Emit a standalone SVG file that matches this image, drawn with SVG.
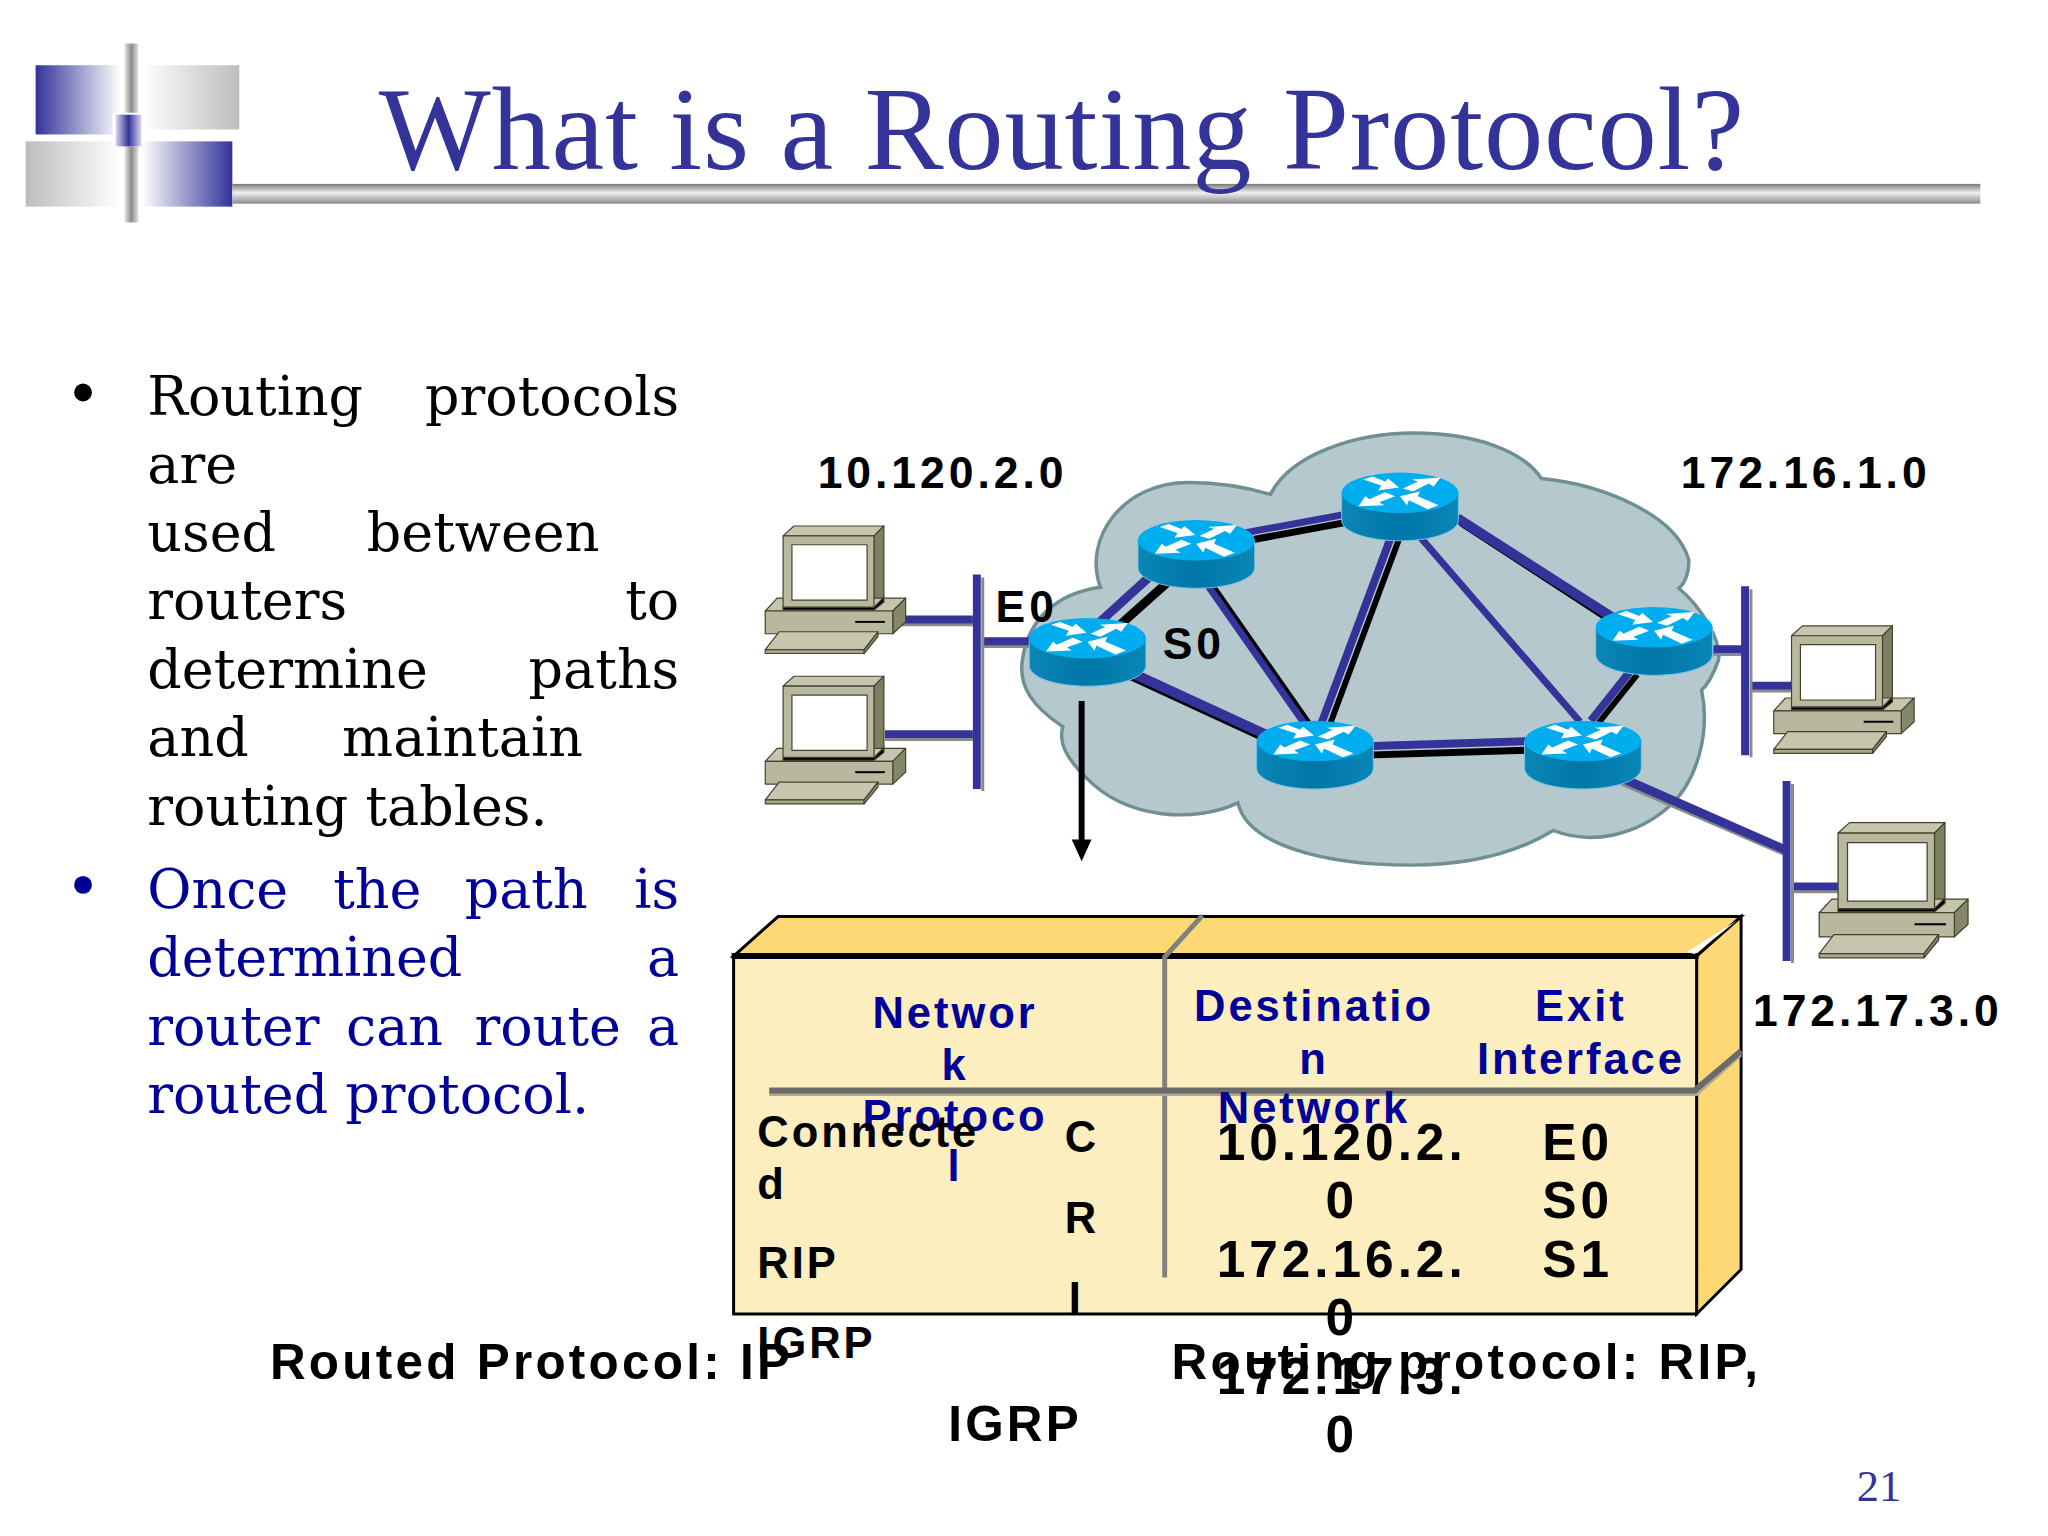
<svg xmlns="http://www.w3.org/2000/svg" xmlns:xlink="http://www.w3.org/1999/xlink" width="2048" height="1536" viewBox="0 0 2048 1536">
<style>
.body{font-family:"DejaVu Serif","Liberation Serif",serif;font-size:54.5px}
.blk{fill:#000}.nav{fill:#000099}
.s{font-family:"Liberation Sans",Arial,sans-serif;font-weight:bold;font-size:45px;letter-spacing:4px}
.t{font-size:44px;letter-spacing:3px}.big{font-size:52px;letter-spacing:4px}.cap{font-size:50px;letter-spacing:3.3px}.m{text-anchor:middle}
.bl{stroke:#333399;fill:none}.bk{stroke:#000;fill:none}
.sh{stroke:#8a8a8a;fill:none}
.pcl{stroke:#44442c;stroke-width:1.2;stroke-linejoin:round}
</style>
<defs>
<linearGradient id="gBW"><stop offset="0" stop-color="#333399"/><stop offset="1" stop-color="#fff"/></linearGradient>
<linearGradient id="gWB"><stop offset="0" stop-color="#fff"/><stop offset="1" stop-color="#333399"/></linearGradient>
<linearGradient id="gGW"><stop offset="0" stop-color="#bdbdbd"/><stop offset="1" stop-color="#fff"/></linearGradient>
<linearGradient id="gWG"><stop offset="0" stop-color="#fff"/><stop offset="1" stop-color="#bdbdbd"/></linearGradient>
<linearGradient id="gV"><stop offset="0" stop-color="#e4e4e4"/><stop offset=".5" stop-color="#8c8c8c"/><stop offset="1" stop-color="#e4e4e4"/></linearGradient>
<linearGradient id="gH" x2="0" y2="1"><stop offset="0" stop-color="#777"/><stop offset=".45" stop-color="#f0f0f0"/><stop offset="1" stop-color="#8a8a8a"/></linearGradient>
<linearGradient id="gC1"><stop offset="0" stop-color="#d8d8ee"/><stop offset=".5" stop-color="#333399"/><stop offset="1" stop-color="#d8d8ee"/></linearGradient>
<linearGradient id="gR"><stop offset="0" stop-color="#0a86b6"/><stop offset=".5" stop-color="#0076a8"/><stop offset="1" stop-color="#0a86b6"/></linearGradient>
<marker id="ah" markerUnits="userSpaceOnUse" markerWidth="24" markerHeight="22" refX="2" refY="10" orient="auto"><path d="M0,0L22,10L0,20z" fill="#000"/></marker>
<g id="router">
<path d="M0,20.5V48C0,60 26,69 59,69S118,60 118,48V20.5z" fill="url(#gR)" stroke="#6fc4e4" stroke-width="1"/>
<ellipse cx="59" cy="20.5" rx="59" ry="20.5" fill="#00aeef"/>
<path fill="#fff" d="M22,7 31,4 44,9 47,6 58,15 37,18 40,13z M62,16 77,9 71,7 100,5 93,14 88,11 72,19z M17,34 24,24 28,27 44,20 54,24 38,30 43,33z M59,24 79,19 77,24 98,33 87,37 68,28 66,33z"/>
</g>
<g id="pc" class="pcl">
<path d="M18,10 29,0H120L110,10z" fill="#c6c6ae"/>
<path d="M110,10 120,0V72L110,82z" fill="#7e7e62"/>
<path d="M0,86 12,73H142L129,86z" fill="#c6c6ae"/>
<path d="M129,86 142,73V97L129,109z" fill="#86866a"/>
<rect x="0" y="86" width="129" height="23" fill="#b8b89e"/>
<path d="M18,82H110L120,72V77L110,85H18z" fill="#000"/>
<rect x="18" y="10" width="92" height="72" fill="#b8b89e"/>
<rect x="27" y="19" width="76" height="56" fill="#fff"/>
<path d="M91,97H121" stroke="#000" stroke-width="2"/>
<path d="M0,125 14,107H114L100,125z" fill="#c6c6ae"/>
<path d="M0,125H100V129H0z" fill="#a8a88e"/>
<path d="M100,125 114,107V112L100,129z" fill="#86866a"/>
</g>
</defs>
<rect width="2048" height="1536" fill="#fff"/>
<g transform="scale(.9887)">
<g id="logo">
<rect x="36" y="66" width="86" height="70" fill="url(#gBW)"/>
<rect x="143" y="66" width="99" height="65" fill="url(#gWG)"/>
<rect x="26" y="143" width="96" height="66" fill="url(#gGW)"/>
<rect x="143" y="143" width="92" height="66" fill="url(#gWB)"/>
<rect x="126" y="44" width="14" height="181" fill="url(#gV)"/>
<rect x="114" y="114" width="32" height="34" fill="#fff"/>
<rect x="117" y="116" width="26" height="32" fill="url(#gC1)"/>
</g>
<rect id="title-rule" x="235" y="186" width="1768" height="20" fill="url(#gH)"/>
<text id="title" x="383" y="171" font-family="'Liberation Serif','Times New Roman',serif" font-size="120" fill="#333399" textLength="1381" lengthAdjust="spacing">What is a Routing Protocol?</text>
<g id="bullets">
<text class="body blk"><tspan x="149" y="420">Routing</tspan> <tspan x="687" y="420" text-anchor="end">protocols</tspan></text>
<text class="body blk" x="149" y="489">are</text>
<text class="body blk"><tspan x="149" y="557">used</tspan> <tspan x="371" y="557">between</tspan></text>
<text class="body blk"><tspan x="149" y="626">routers</tspan> <tspan x="687" y="626" text-anchor="end">to</tspan></text>
<text class="body blk"><tspan x="149" y="696">determine</tspan> <tspan x="687" y="696" text-anchor="end">paths</tspan></text>
<text class="body blk"><tspan x="149" y="765">and</tspan> <tspan x="346" y="765">maintain</tspan></text>
<text class="body blk" x="149" y="834">routing tables.</text>
<text class="body nav"><tspan x="149" y="918">Once</tspan> <tspan x="337" y="918">the</tspan> <tspan x="470" y="918">path</tspan> <tspan x="687" y="918" text-anchor="end">is</tspan></text>
<text class="body nav"><tspan x="149" y="987">determined</tspan> <tspan x="687" y="987" text-anchor="end">a</tspan></text>
<text class="body nav"><tspan x="149" y="1057">router</tspan> <tspan x="350" y="1057">can</tspan> <tspan x="480" y="1057">route</tspan> <tspan x="687" y="1057" text-anchor="end">a</tspan></text>
<text class="body nav" x="149" y="1126">routed protocol.</text>
<circle cx="84" cy="397" r="9" fill="#000"/>
<circle cx="84" cy="895" r="9" fill="#000099"/>
</g>
<g id="cloud"><path d="M1113,594C1095,545 1135,488 1202,488C1235,488 1265,494 1285,500C1305,460 1370,438 1430,438C1490,438 1540,455 1559,484C1620,490 1695,520 1708,566C1709,578 1704,590 1698,595C1722,615 1742,650 1738,668C1733,682 1728,692 1721,698C1730,740 1717,790 1688,816C1655,845 1610,855 1571,840C1530,865 1480,875 1427,875C1340,875 1262,855 1252,812C1210,832 1140,830 1098,786C1080,768 1070,752 1075,735C1045,715 1030,695 1034,668C1040,625 1070,600 1113,594Z" fill="#b5c8cd" stroke="#6f8f92" stroke-width="3.5"/></g>
<g id="connectors">
<path class="bl" stroke-width="9" d="M1096,644 1206,544"/>
<path class="bl" stroke-width="7" d="M1210,548 1416,510"/>
<path class="bk" stroke-width="9" d="M1107,655 1219,555"/>
<path class="bk" stroke-width="7" d="M1212,556 1418,518"/>
<path class="bk" stroke-width="4" d="M1100,666 1330,772M1226,590 1338,750M1477,530 1627,628"/>
<path class="bk" stroke-width="6" d="M1345,733 1417,540M1656,682 1617,731"/>
<path class="bl" stroke-width="10" d="M1100,660 1330,766M1474,524 1630,624"/>
<path class="bl" stroke-width="7" d="M1220,590 1332,750M1437,544 1598,730"/>
<path class="bl" stroke-width="8" d="M1336,733 1408,540M1648,680 1609,729M1340,756 1600,748"/>
<path class="bk" stroke-width="7" d="M1340,765 1600,757"/>
<path class="sh" stroke-width="3" d="M1640,793 1809,866"/>
<path class="bl" stroke-width="9" d="M1636,785 1809,861M993,649H1045M1733,657H1763M915,627H984M895,743H984M1770,694H1812M1814,897H1862"/>
<path class="sh" stroke-width="3" d="M993,654H1045M1733,662H1763M912,632H984M895,748H984M1770,699H1812M1814,902H1862"/>
<path class="sh" stroke-width="3" d="M994,584V800M1771,596V766M1813,793V974"/>
<path class="bl" stroke-width="8" d="M988,581V798M1765,593V764M1807,790V972"/>
<path d="M1094,709V851" stroke="#000" stroke-width="6" fill="none" marker-end="url(#ah)"/>
</g>
<g id="router-1"><use xlink:href="#router" x="1041" y="625"/></g>
<g id="router-2"><use xlink:href="#router" x="1151" y="526"/></g>
<g id="router-3"><use xlink:href="#router" x="1357" y="478"/></g>
<g id="router-4"><use xlink:href="#router" x="1614" y="614"/></g>
<g id="router-5"><use xlink:href="#router" x="1542" y="729"/></g>
<g id="router-6"><use xlink:href="#router" x="1271" y="729"/></g>
<g id="pc-1"><use xlink:href="#pc" x="774" y="532"/></g>
<g id="pc-2"><use xlink:href="#pc" x="774" y="684"/></g>
<g id="pc-3"><use xlink:href="#pc" x="1794" y="633"/></g>
<g id="pc-4"><use xlink:href="#pc" transform="translate(1840,832) scale(1.06)"/></g>
<g id="labels" class="s">
<text x="827" y="494">10.120.2.0</text>
<text x="1700" y="494">172.16.1.0</text>
<text x="1773" y="1038">172.17.3.0</text>
<text x="1007" y="629">E0</text>
<text x="1176" y="667">S0</text>
</g>
<g id="routing-table">
<path d="M742,967 787,927H1761L1716,967z" fill="#ffd876" stroke="#000" stroke-width="3"/>
<path d="M1716,967 1761,927V1284L1716,1329z" fill="#ffd876" stroke="#000" stroke-width="3"/>
<rect x="742" y="967" width="974" height="362" fill="#fdeebf" stroke="#000" stroke-width="3"/>
<path d="M740,967H1718" stroke="#000" stroke-width="6"/>
<path d="M1757,931 1706,963 1714,965z" fill="#fff"/>
<path d="M1178,1292V968L1216,926" stroke="#808080" stroke-width="5" fill="none"/>
<path d="M778,1107H1716L1761,1067" stroke="#b0a890" stroke-width="3" fill="none"/>
<path d="M778,1103H1714L1761,1063" stroke="#6a6a6a" stroke-width="6" fill="none"/>
<g class="s t nav m">
<text x="966" y="1040">Networ</text><text x="966" y="1092">k</text><text x="966" y="1144">Protoco</text><text x="966" y="1195">l</text>
<text x="1329" y="1033">Destinatio</text><text x="1329" y="1086">n</text><text x="1329" y="1136">Network</text>
<text x="1599" y="1033">Exit</text><text x="1599" y="1086">Interface</text>
</g>
<g class="s t blk">
<text x="766" y="1160">Connecte</text><text x="766" y="1213">d</text><text x="766" y="1293">RIP</text><text x="766" y="1374">IGRP</text>
<text x="1077" y="1165">C</text><text x="1077" y="1247">R</text><text x="1081" y="1328">I</text>
</g>
<g class="s big blk">
<g class="m">
<text x="1357" y="1173">10.120.2.</text><text x="1357" y="1232">0</text><text x="1357" y="1292">172.16.2.</text><text x="1357" y="1350">0</text><text x="1357" y="1410">172.17.3.</text><text x="1357" y="1469">0</text>
</g>
<text x="1560" y="1173">E0</text><text x="1560" y="1232">S0</text><text x="1560" y="1292">S1</text>
</g>
</g>
<g id="captions" class="s cap blk">
<text x="273" y="1395">Routed Protocol: IP</text>
<text x="1185" y="1395">Routing protocol: RIP,</text>
<text x="959" y="1457">IGRP</text>
</g>
<text id="page" x="1878" y="1518" font-family="'Liberation Serif',serif" font-size="45" fill="#333399">21</text>
</g>
</svg>
